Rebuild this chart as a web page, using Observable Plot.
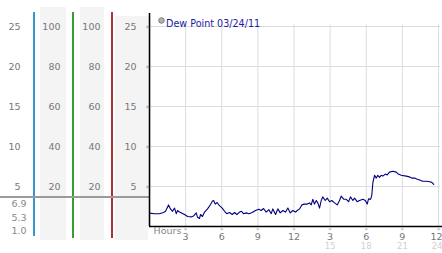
<!DOCTYPE html>
<html>
<head>
<meta charset="utf-8">
<script src="https://cdn.jsdelivr.net/npm/d3@7"></script>
<script src="https://cdn.jsdelivr.net/npm/@observablehq/plot@0.6"></script>
<style>
  html, body { margin: 0; padding: 0; background: #fff; }
  #wrap { position: relative; width: 442px; height: 253px; overflow: hidden; font-family: "DejaVu Sans", sans-serif; }
  .deco { position: absolute; }
  #chart { position: absolute; left: 0; top: 0; }
</style>
</head>
<body>
<div id="wrap">
  <div class="deco" style="left:40px;top:7px;width:26px;height:233px;background:#f4f4f4"></div>
  <div class="deco" style="left:80px;top:7px;width:24px;height:233px;background:#f4f4f4"></div>
  <div class="deco" style="left:115px;top:16px;width:33px;height:224px;background:#f4f4f4"></div>
  <div class="deco" style="left:33px;top:12px;width:1.5px;height:224px;background:#3399cc"></div>
  <div class="deco" style="left:72px;top:12px;width:1.5px;height:226px;background:#33a033"></div>
  <div class="deco" style="left:111px;top:12px;width:1.5px;height:226px;background:#aa3333"></div>
  <div class="deco" style="left:0px;top:196px;width:149px;height:2px;background:#9a9a9a"></div>
  <div id="chart"></div>
</div>
<script>
// Hours since midnight, 03/24/11
const hours = [0.00,0.42,0.83,1.16,1.33,1.58,1.74,1.91,2.08,2.22,2.33,2.49,2.66,2.91,3.16,3.46,3.65,3.88,3.99,4.15,4.24,4.40,4.57,4.82,5.07,5.23,5.32,5.46,5.62,5.81,
  6.04,6.23,6.42,6.64,6.87,7.06,7.25,7.48,7.64,7.81,8.03,8.25,8.53,8.80,9.08,9.28,9.47,9.69,9.91,10.11,10.24,10.47,10.66,10.86,11.07,11.30,11.49,11.69,11.90,12.13,
  12.27,12.46,12.65,12.87,13.10,13.29,13.43,13.56,13.70,13.85,13.98,14.12,14.26,14.39,14.59,14.76,14.95,15.14,15.37,15.59,15.78,15.92,16.14,16.34,16.53,16.69,16.89,17.03,17.25,17.44,17.72,17.92,18.08,18.19,18.36,18.46,
  18.55,18.69,18.83,18.96,19.10,19.24,19.38,19.58,19.74,19.93,20.21,20.49,20.62,20.90,21.32,21.59,21.79,22.01,22.24,22.43,22.70,22.99,23.26,23.40,23.53,23.61];
// Dew point values
const dew = [1.67,1.6,1.6,1.75,1.9,2.7,2.2,1.9,2.3,1.6,2.0,1.8,1.7,1.5,1.25,1.2,1.3,1.7,1.15,1.0,1.5,1.25,1.8,2.2,2.75,3.2,3.25,2.8,3.0,2.6,
  2.3,1.9,1.6,1.75,1.5,1.75,1.5,1.8,1.9,1.6,1.7,1.6,1.75,2.0,2.15,2.0,2.25,1.8,2.1,1.6,2.2,1.5,2.2,1.7,2.0,1.8,2.3,1.7,2.0,1.8,
  2.0,2.2,2.7,2.8,2.8,2.95,2.7,3.4,2.8,3.25,2.95,2.3,3.25,3.7,3.25,3.55,3.1,3.25,2.95,2.7,3.25,3.8,3.4,3.4,3.1,3.7,3.25,3.55,3.1,3.25,3.4,3.25,2.8,3.45,3.4,3.9,
  5.5,6.4,6.05,6.4,6.15,6.4,6.3,6.55,6.45,6.8,6.9,6.8,6.6,6.4,6.3,6.2,6.05,6.05,5.9,5.8,5.65,5.65,5.6,5.55,5.4,5.25];

const yTicks = [5, 10, 15, 20, 25];
const pctLabels = ["20", "40", "60", "80", "100"];
const xTicks = [3, 6, 9, 12, 15, 18, 21, 24];
const xTickLabels = ["3", "6", "9", "12", "3", "6", "9", "12"];
const xTicks24 = [15, 18, 21, 24];
const xTickLabels24 = ["15", "18", "21", "24"];
const statLabels = ["6.9", "5.3", "1.0"];
const legendLabel = "Dew Point 03/24/11";
const hoursLabel = "Hours";

const data = hours.map((h, i) => ({hour: h, dew: dew[i]}));
const pct = yTicks.map((v, i) => ({v, label: pctLabels[i]}));
const xt = xTicks.map((v, i) => ({v, label: xTickLabels[i]}));
const xt24 = xTicks24.map((v, i) => ({v, label: xTickLabels24[i]}));
const xtMain = xt.filter(d => d.v < 24), xtLast = xt.filter(d => d.v === 24);
const xt24Main = xt24.filter(d => d.v < 24), xt24Last = xt24.filter(d => d.v === 24);

const F = "DejaVu Sans";
const statOffsets = [-20, -6, 7];
const plot = Plot.plot({
  width: 442,
  height: 253,
  marginLeft: 149,
  marginRight: 4,
  marginTop: 13,
  marginBottom: 27,
  x: {domain: [0, 24], axis: null},
  y: {domain: [0, 26.625], axis: null},
  style: {background: "transparent", fontFamily: F, overflow: "visible"},
  marks: [
    Plot.ruleY(yTicks, {x1: 0, x2: 24.2, stroke: "#dcdcdc", strokeWidth: 1}),
    Plot.ruleX(xTicks, {y1: 0, y2: 25.2, stroke: "#dcdcdc", strokeWidth: 1}),
    Plot.line(data, {x: "hour", y: "dew", stroke: "#000080", strokeWidth: 1.1}),
    Plot.ruleX([0], {y1: 0, y2: 26.625, stroke: "#000", strokeWidth: 1.6}),
    Plot.ruleY([0], {x1: 0, x2: 24.5, stroke: "#000", strokeWidth: 1.6}),
    // left columns
    Plot.text(yTicks, {y: d => d, text: d => String(d), frameAnchor: "left", textAnchor: "end", dx: -129, fill: "#777", fontSize: 9.5, fontFamily: F}),
    Plot.text(pct, {y: "v", text: "label", frameAnchor: "left", textAnchor: "end", dx: -89, fill: "#777", fontSize: 9.5, fontFamily: F}),
    Plot.text(pct, {y: "v", text: "label", frameAnchor: "left", textAnchor: "end", dx: -49, fill: "#777", fontSize: 9.5, fontFamily: F}),
    Plot.text(yTicks, {y: d => d, text: d => String(d), frameAnchor: "left", textAnchor: "end", dx: -13, fill: "#777", fontSize: 9.5, fontFamily: F}),
    Plot.text(yTicks, {y: d => d, text: () => "»", frameAnchor: "left", dx: -4, fill: "#888", fontSize: 7, fontFamily: F}),
    // stats (max, current, min)
    ...statLabels.map((s, i) => Plot.text([s], {text: d => d, frameAnchor: "bottom-left", textAnchor: "end", dx: -123, dy: statOffsets[i], fill: "#888", fontSize: 9.5, fontFamily: F})),
    // bottom axis
    Plot.text(xTicks, {x: d => d, text: () => "»", frameAnchor: "bottom", dy: 4, fill: "#888", fontSize: 6, fontFamily: F}),
    Plot.text(xtMain, {x: "v", text: "label", frameAnchor: "bottom", dy: 13.5, fill: "#777", fontSize: 9.5, fontFamily: F}),
    Plot.text(xtLast, {x: "v", text: "label", frameAnchor: "bottom", textAnchor: "end", dx: 4, dy: 13.5, fill: "#777", fontSize: 9.5, fontFamily: F}),
    Plot.text(xt24Main, {x: "v", text: "label", frameAnchor: "bottom", dy: 22.5, fill: "#d0d0d0", fontSize: 8.5, fontFamily: F}),
    Plot.text(xt24Last, {x: "v", text: "label", frameAnchor: "bottom", textAnchor: "end", dx: 4, dy: 22.5, fill: "#d0d0d0", fontSize: 8.5, fontFamily: F}),
    Plot.text([hoursLabel], {text: d => d, frameAnchor: "bottom-left", textAnchor: "start", dx: 4, dy: 7, fill: "#888", fontSize: 9.5, fontFamily: F}),
    // legend
    Plot.dot([legendLabel], {frameAnchor: "top-left", dx: 12, dy: 7, r: 2.8, fill: "#b0b0b0", stroke: "#808080", strokeWidth: 1}),
    Plot.text([legendLabel], {text: d => d, frameAnchor: "top-left", textAnchor: "start", dx: 16.5, dy: 7, fill: "#1a1aa8", fontSize: 9.6, fontFamily: F})
  ]
});
document.getElementById("chart").appendChild(plot);
</script>
</body>
</html>
